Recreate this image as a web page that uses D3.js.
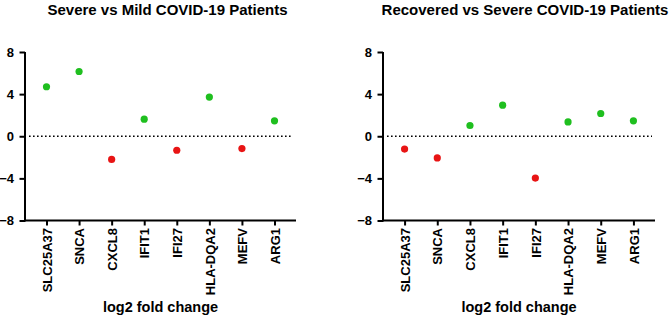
<!DOCTYPE html>
<html>
<head>
<meta charset="utf-8">
<script src="https://cdn.jsdelivr.net/npm/d3@7"></script>
<style>
  html, body { margin: 0; padding: 0; background: #fff; }
  svg { display: block; font-family: "Liberation Sans", Arial, sans-serif; font-weight: bold; }
  .axis path, .axis line { stroke: #000; stroke-width: 2; }
  .axis text { fill: #000; font-size: 13px; font-weight: bold; }
</style>
</head>
<body>
<svg id="chart" width="672" height="320"></svg>
<script>
// genes on the x axis (same order in both panels)
const genes = ["SLC25A37", "SNCA", "CXCL8", "IFIT1", "IFI27", "HLA-DQA2", "MEFV", "ARG1"];

// log2 fold change
const severeVsMild     = [4.7, 6.15, -2.2, 1.62, -1.33, 3.72, -1.17, 1.46];
const recoveredVsSevere = [-1.22, -2.06, 1.02, 2.95, -3.97, 1.36, 2.16, 1.46];

const yTicks = [-8, -4, 0, 4, 8];
const titles = ["Severe vs Mild COVID-19 Patients", "Recovered vs Severe COVID-19 Patients"];
const xTitle = "log2 fold change";

const UP = "#1fbf1f", DOWN = "#e81414";

const svg = d3.select("#chart");

const panels = [
    { title: titles[0], values: severeVsMild,      x0: 25,  x1: 296, titleX: 167.5 },
    { title: titles[1], values: recoveredVsSevere, x0: 383, x1: 655, titleX: 525 },
];

const y = d3.scaleLinear().domain([-8, 8]).range([220.5, 52]);

panels.forEach(p => {
    const g = svg.append("g");

    const x = d3.scalePoint()
        .domain(genes)
        .range([p.x0, p.x1])
        .padding(0.66);

    g.append("text")
        .attr("x", p.titleX)
        .attr("y", 14.5)
        .attr("text-anchor", "middle")
        .style("font-size", "15px")
        .text(p.title);

    // y axis
    g.append("g")
        .attr("class", "axis")
        .attr("transform", `translate(${p.x0},0)`)
        .call(d3.axisLeft(y).tickValues(yTicks).tickSize(5.5).tickSizeOuter(0).tickPadding(5.5))
        .call(a => a.select(".domain").attr("d", `M0,${y(8)}V${y(-8) + 1}`));

    // x axis
    g.append("g")
        .attr("class", "axis")
        .attr("transform", `translate(0,${y(-8)})`)
        .call(d3.axisBottom(x).tickSize(5).tickSizeOuter(0))
        .call(a => a.select(".domain").attr("d", `M${p.x0 - 1},0H${p.x1}`))
        .selectAll("text")
        .attr("transform", "rotate(-90)")
        .attr("text-anchor", "end")
        .attr("x", -7.5)
        .attr("y", 0)
        .attr("dy", "0.36em");

    // zero line
    g.append("line")
        .attr("x1", p.x0 + 4)
        .attr("x2", p.x1 - 3)
        .attr("y1", y(0))
        .attr("y2", y(0))
        .attr("stroke", "#000")
        .attr("stroke-width", 1.6)
        .attr("stroke-dasharray", "1.6,2.4");

    g.selectAll("circle")
        .data(p.values)
        .join("circle")
        .attr("cx", (d, i) => x(genes[i]))
        .attr("cy", d => y(d))
        .attr("r", 3.6)
        .attr("fill", d => d >= 0 ? UP : DOWN);

    g.append("text")
        .attr("x", (p.x0 + p.x1) / 2)
        .attr("y", 311.5)
        .attr("text-anchor", "middle")
        .style("font-size", "14.5px")
        .text(xTitle);
});
</script>
</body>
</html>
